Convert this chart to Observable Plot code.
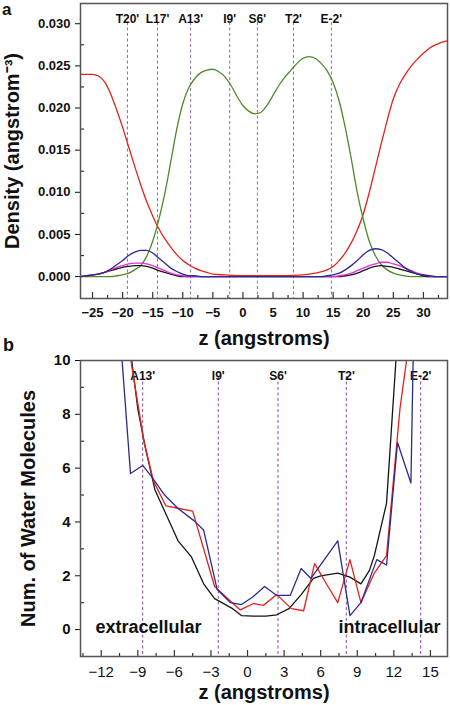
<!DOCTYPE html>
<html><head><meta charset="utf-8">
<script src="https://cdn.jsdelivr.net/npm/d3@7"></script>
<script src="https://cdn.jsdelivr.net/npm/@observablehq/plot@0.6"></script>
<style>
body{margin:0;background:#fff;font-family:"Liberation Sans",Arial,sans-serif}
#wrap{position:relative;width:450px;height:705px;overflow:hidden;background:#fff}
.pl{position:absolute;left:0}
.letter{position:absolute;font-weight:bold;font-family:"Liberation Sans",Arial,sans-serif;color:#111;line-height:1}
</style></head><body><div id="wrap"></div>
<script>
// ---------- Panel a: density profiles ----------
const densityRed = [[-27,0.0240],[-25,0.0240],[-24,0.0238],[-23,0.0231],[-22,0.0217],[-21,0.0198],[-20,0.0177],[-19,0.0154],[-18,0.0131],[-17,0.0109],[-16,0.0089],[-15,0.0072],[-14,0.0057],[-13,0.0045],[-12,0.0035],[-11,0.0026],[-10,0.0019],[-9,0.0014],[-8,0.0010],[-7,0.0007],[-6,0.0005],[-5,0.0003],[-3,0.0002],[0,0.0001],[5,0.0001],[10,0.0002],[12,0.0004],[14,0.0008],[15,0.0012],[16,0.0019],[17,0.0028],[18,0.0040],[19,0.0055],[20,0.0074],[21,0.0100],[22,0.0129],[23,0.0158],[24,0.0186],[25,0.0211],[26,0.0228],[27,0.0240],[28,0.0250],[29,0.0258],[30,0.0265],[31,0.0271],[32,0.0275],[33,0.0278],[34,0.0280]];
const densityGreen = [[-27,0],[-22,0],[-21,0.0001],[-20,0.0002],[-19,0.0004],[-18,0.0008],[-17,0.0013],[-16,0.0024],[-15,0.0042],[-14,0.0067],[-13,0.0098],[-12,0.0136],[-11,0.0175],[-10,0.0205],[-9,0.0224],[-8,0.0235],[-7,0.0242],[-6,0.0245],[-5,0.0246],[-4,0.0243],[-3,0.0237],[-2,0.0227],[-1,0.0214],[0,0.0203],[1,0.0196],[2,0.0193],[3,0.0195],[4,0.0203],[5,0.0215],[6,0.0227],[7,0.0237],[8,0.0245],[9,0.0253],[10,0.0259],[11,0.0261],[12,0.0259],[13,0.0253],[14,0.0244],[15,0.0230],[16,0.0208],[17,0.0177],[18,0.0140],[19,0.0100],[20,0.0068],[21,0.0042],[22,0.0025],[23,0.0014],[24,0.0008],[25,0.0004],[26,0.0002],[28,0],[34,0]];
const densityBlue = [[-27,0],[-26,0.0001],[-25,0.0002],[-24,0.0003],[-23,0.0005],[-22,0.0009],[-21,0.0014],[-20,0.0019],[-19,0.0025],[-18,0.0029],[-17,0.0031],[-16,0.0031],[-15,0.0028],[-14,0.0022],[-13,0.0016],[-12,0.0010],[-11,0.0006],[-10,0.0003],[-9,0.0001],[-8,0.0001],[-7,0],[13,0],[14,0.0001],[15,0.0002],[16,0.0004],[17,0.0008],[18,0.0013],[19,0.0019],[20,0.0026],[21,0.0031],[22,0.0033],[23,0.0032],[24,0.0028],[25,0.0022],[26,0.0016],[27,0.0010],[28,0.0006],[29,0.0003],[30,0.0002],[31,0.0001],[32,0],[34,0]];
const densityMagenta = [[-27,0],[-26,0.0001],[-25,0.0002],[-24,0.0003],[-23,0.0005],[-22,0.0008],[-21,0.0011],[-20,0.0013],[-19,0.0015],[-18,0.0016],[-17,0.0016],[-16,0.0015],[-15,0.0013],[-14,0.0010],[-13,0.0007],[-12,0.0004],[-11,0.0002],[-10,0.0001],[-9,0],[15,0],[16,0.0001],[17,0.0002],[18,0.0004],[19,0.0007],[20,0.0010],[21,0.0013],[22,0.0015],[23,0.0017],[24,0.0017],[25,0.0015],[26,0.0013],[27,0.0010],[28,0.0007],[29,0.0004],[30,0.0002],[31,0.0001],[32,0],[34,0]];
const densityBlack = [[-27,0],[-26,0.0001],[-25,0.0002],[-24,0.0003],[-23,0.0005],[-22,0.0007],[-21,0.0009],[-20,0.0011],[-19,0.0012],[-18,0.0013],[-17,0.0013],[-16,0.0012],[-15,0.0010],[-14,0.0007],[-13,0.0005],[-12,0.0003],[-11,0.0001],[-10,0],[16,0],[17,0.0001],[18,0.0002],[19,0.0004],[20,0.0007],[21,0.0010],[22,0.0012],[23,0.0013],[24,0.0012],[25,0.0011],[26,0.0009],[27,0.0007],[28,0.0005],[29,0.0003],[30,0.0001],[31,0],[34,0]];

const topSiteLabels = ["T20'","L17'","A13'","I9'","S6'","T2'","E-2'"];
const topSiteZ = [-19.2,-14.2,-8.7,-2.2,2.4,8.4,14.7];
const topXTicks = [-25,-20,-15,-10,-5,0,5,10,15,20,25,30];
const topXMinor = [-22.5,-17.5,-12.5,-7.5,-2.5,2.5,7.5,12.5,17.5,22.5,27.5,32.5];
const topYTicks = [0,0.005,0.010,0.015,0.020,0.025,0.030];
const topYMinor = [0.0025,0.0075,0.0125,0.0175,0.0225,0.0275];

// ---------- Panel b: water molecules ----------
const waterBlack = [[-10,13],[-9.5,10],[-9,8.2],[-8.4,6.8],[-7.6,5.2],[-6.6,4.2],[-5.7,3.3],[-4.6,2.7],[-3.6,1.7],[-2.7,1.15],[-1.3,0.8],[-0.5,0.52],[0.5,0.5],[1.5,0.5],[2.4,0.55],[3.4,0.78],[4.4,1.3],[5.4,1.9],[6.0,2.0],[7.4,2.1],[8.4,1.95],[9.3,1.7],[10.0,2.2],[10.4,2.75],[11.4,4.7],[12.2,10.2],[12.5,13]];
const waterRed = [[-10.5,13],[-9.5,9.8],[-8.5,7.0],[-7.7,5.5],[-6.7,4.6],[-5.6,4.5],[-4.5,4.4],[-2.7,1.6],[-1.5,1.1],[-0.6,0.73],[0.5,0.97],[1.3,0.9],[2.4,1.3],[3.6,0.78],[4.6,0.7],[5.5,2.45],[6.6,1.6],[7.4,1.0],[8.4,2.6],[9.3,1.0],[10.4,2.1],[11.4,2.75],[12.5,8.2],[13.1,10.2],[13.6,13]];
const waterBlue = [[-10.7,12.5],[-9.6,5.8],[-8.6,6.1],[-7.9,5.7],[-6.8,5.0],[-5.7,4.5],[-4.4,4.05],[-3.6,3.7],[-2.5,1.5],[-1.4,1.0],[-0.5,0.93],[0.4,1.2],[1.4,1.6],[2.4,1.27],[3.5,1.27],[4.4,2.27],[5.2,1.9],[6.3,2.6],[7.4,3.3],[8.4,0.52],[9.3,1.0],[10.6,2.6],[11.4,2.4],[12.3,6.95],[13.4,5.45],[13.6,10.5],[13.8,14]];

const botSiteLabels = ["A13'","I9'","S6'","T2'","E-2'"];
const botSiteZ = [-8.6,-2.4,2.5,8.1,14.2];
const botXTicks = [-12,-9,-6,-3,0,3,6,9,12,15];
const botXMinor = [-13.5,-10.5,-7.5,-4.5,-1.5,1.5,4.5,7.5,10.5,13.5];
const botYTicks = [0,2,4,6,8,10];
const botYMinor = [1,3,5,7,9];
const regionLabels = ["extracellular","intracellular"];

const FONT = '"Liberation Sans", Arial, sans-serif';
const toRows = (arr, s) => arr.map(([z, v]) => ({z, v, s}));
const topColors = {red:"#e3221c", green:"#4e8a2c", blue:"#2c2a8e", magenta:"#e02ee0", black:"#151515"};
const topRows = [
  ...toRows(densityRed,"red"), ...toRows(densityGreen,"green"),
  ...toRows(densityBlack,"black"), ...toRows(densityMagenta,"magenta"), ...toRows(densityBlue,"blue")
];
const topSites = topSiteLabels.map((label,i)=>({label, z: topSiteZ[i]}));

const wrap = document.getElementById("wrap");

const TOP_H = 354, TOP_MT = 3, TOP_MB = 56, ML = 80, MR = 3;
const topFrameH = TOP_H - TOP_MT - TOP_MB;
const frameW = 450 - ML - MR;

const topPlot = Plot.plot({
  width: 450, height: TOP_H,
  marginLeft: ML, marginRight: MR, marginTop: TOP_MT, marginBottom: TOP_MB,
  style: {fontFamily: FONT, background: "transparent", color: "#111"},
  x: {domain: [-27, 34]},
  y: {domain: [-0.0026, 0.0324]},
  marks: [
    Plot.ruleX(topSites, {x: "z", stroke: "#8a6ab4", strokeWidth: 1, strokeDasharray: "3,2.5", insetTop: 19}),
    Plot.text(topSites, {x: "z", text: "label", frameAnchor: "top", dy: 11, fontWeight: "bold", fontSize: 12, fill: "#111"}),
    Plot.line(topRows, {x: "z", y: "v", z: "s", stroke: d => topColors[d.s], curve: "monotone-x", strokeWidth: 1.3}),
    Plot.ruleX(topXTicks, {x: d => d, insetTop: topFrameH - 6, stroke: "#333", strokeWidth: 1.2}),
    Plot.ruleX(topXMinor, {x: d => d, insetTop: topFrameH - 3, stroke: "#333", strokeWidth: 1.2}),
    Plot.ruleY(topYMinor, {y: d => d, insetRight: frameW - 4, stroke: "#333", strokeWidth: 1.2}),
    Plot.axisX({ticks: topXTicks, tickSize: 0, tickPadding: 9, fontSize: 13, fontWeight: "bold",
      label: "z (angstroms)", labelAnchor: "center", labelArrow: "none", labelOffset: 46}),
    Plot.axisY({ticks: topYTicks, tickSize: 5, tickPadding: 5, tickFormat: d3.format(".3f"), fontSize: 13, fontWeight: "bold",
      label: "Density (angstrom⁻³)", labelAnchor: "center", labelArrow: "none", labelOffset: 76}),
    Plot.frame({stroke: "#555", strokeWidth: 1.5})
  ]
});

const botColors = {black:"#151515", red:"#e3221c", blue:"#2c2a8e"};
const botRows = [...toRows(waterBlack,"black"), ...toRows(waterRed,"red"), ...toRows(waterBlue,"blue")];
const botSites = botSiteLabels.map((label,i)=>({label, z: botSiteZ[i]}));

const BOT_TOP = 345, BOT_H = 360, BOT_MT = 15, BOT_MB = 49;
const botFrameH = BOT_H - BOT_MT - BOT_MB;

const botPlot = Plot.plot({
  width: 450, height: BOT_H,
  marginLeft: ML, marginRight: MR, marginTop: BOT_MT, marginBottom: BOT_MB,
  style: {fontFamily: FONT, background: "transparent", color: "#111"},
  x: {domain: [-13.7, 16.4]},
  y: {domain: [-1, 10]},
  marks: [
    Plot.ruleX(botSites, {x: "z", stroke: "#8a4aa4", strokeWidth: 1, strokeDasharray: "3,2.5", insetTop: 16}),
    Plot.text(botSites, {x: "z", text: "label", frameAnchor: "top", dy: 11, fontWeight: "bold", fontSize: 12, fill: "#111"}),
    Plot.line(botRows, {x: "z", y: "v", z: "s", stroke: d => botColors[d.s], strokeWidth: 1.3, clip: true}),
    Plot.text([regionLabels[0]], {text: d => d, frameAnchor: "bottom-left", textAnchor: "start", dx: 15, dy: -24, fontSize: 18, fontWeight: "bold", fill: "#111"}),
    Plot.text([regionLabels[1]], {text: d => d, frameAnchor: "bottom-right", textAnchor: "end", dx: -7, dy: -24, fontSize: 18, fontWeight: "bold", fill: "#111"}),
    Plot.ruleX(botXTicks, {x: d => d, insetTop: botFrameH - 6, stroke: "#333", strokeWidth: 1.2}),
    Plot.ruleX(botXMinor, {x: d => d, insetTop: botFrameH - 3, stroke: "#333", strokeWidth: 1.2}),
    Plot.ruleY(botYMinor, {y: d => d, insetRight: frameW - 4, stroke: "#333", strokeWidth: 1.2}),
    Plot.axisX({ticks: botXTicks, tickSize: 0, tickPadding: 10, fontSize: 15, label: null}),
    Plot.axisY({ticks: botYTicks, tickSize: 5, tickPadding: 5, fontSize: 15,
      label: "Num. of Water Molecules", labelAnchor: "center", labelArrow: "none", labelOffset: 60, fontWeight: "bold"}),
    Plot.axisX({ticks: [], tickSize: 0, label: "z (angstroms)", labelAnchor: "center", labelArrow: "none", labelOffset: 42, fontWeight: "bold"}),
    Plot.frame({stroke: "#555", strokeWidth: 1.5})
  ]
});

topPlot.classList.add("pl"); topPlot.style.top = "0px";
botPlot.classList.add("pl"); botPlot.style.top = BOT_TOP + "px";
wrap.appendChild(topPlot);
wrap.appendChild(botPlot);

for (const svg of [topPlot, botPlot]) {
  svg.querySelectorAll("g[aria-label$='axis label'] text").forEach(t => { t.style.fontSize = "20px"; t.style.fontWeight = "bold"; });
}

const la = document.createElement("div"); la.className = "letter"; la.textContent = "a";
la.style.cssText += "left:2px;top:1px;font-size:17px;";
const lb = document.createElement("div"); lb.className = "letter"; lb.textContent = "b";
lb.style.cssText += "left:3px;top:336px;font-size:18px;";
wrap.appendChild(la); wrap.appendChild(lb);
</script></body></html>
